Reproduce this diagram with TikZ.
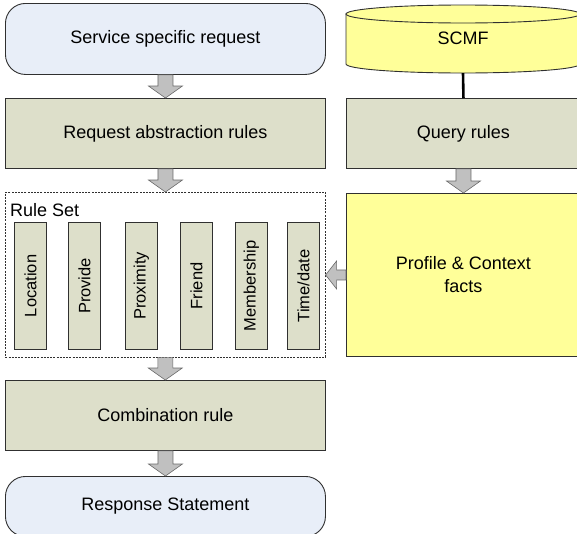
\documentclass[tikz,border=0pt]{standalone}
\usepackage{fontspec}
\setmainfont{Liberation Sans}
\usetikzlibrary{calc}

\definecolor{reqblue}{HTML}{E8EEF8}
\definecolor{rulegreen}{HTML}{DDDFCA}
\definecolor{factyellow}{HTML}{FFFF99}
\definecolor{arrowfill}{HTML}{C0C0C0}
\definecolor{arrowedge}{HTML}{6A6A6A}
\definecolor{edgegray}{HTML}{303030}

% downward block arrow from the bottom of #1 to the top of #2
\newcommand\downblock[2]{%
  \path[blockarrow] let \p1=(#1.south), \p2=(#2.north) in
    (\x1-7.5pt,\y1) -- (\x1-7.5pt,\y2+12pt) -- (\x1-17pt,\y2+12pt) -- (\x1,\y2)
    -- (\x1+17pt,\y2+12pt) -- (\x1+7.5pt,\y2+12pt) -- (\x1+7.5pt,\y1) -- cycle;}

\begin{document}
\begin{tikzpicture}[x=1pt,y=-1pt,
  base/.style={draw=edgegray, line width=0.9pt, inner sep=0pt, anchor=north west,
    font=\fontsize{18}{21}\selectfont},
  rulebox/.style={base, fill=rulegreen, minimum width=320pt, minimum height=70pt},
  endbox/.style={base, fill=reqblue, rounded corners=20pt, minimum width=320pt},
  rightbox/.style={base, minimum width=234pt, minimum height=70pt},
  setbox/.style={draw=edgegray, line width=0.6pt, dash pattern=on 2pt off 1.2pt,
    inner sep=0pt, anchor=north west, minimum width=320pt, minimum height=165pt},
  member/.style={base, fill=rulegreen, minimum width=32pt, minimum height=127pt,
    font=\fontsize{16.5}{19}\selectfont},
  membertext/.style={rotate=90, font=\fontsize{16.5}{19}\selectfont, inner sep=0pt},
  blockarrow/.style={fill=arrowfill, draw=arrowedge, line width=0.6pt},
]
\useasboundingbox (0,0) rectangle (577,533);
\clip (0,0) rectangle (577,533);

% left column
\node[endbox, minimum height=71pt] (service) at (5,3) {Service specific request};
\node[rulebox] (abstract) at (5,98) {Request abstraction rules};
\node[setbox] (ruleset) at (5,192) {};
\node[anchor=west, inner sep=0pt, font=\fontsize{18}{21}\selectfont] (setlabel) at (10,210) {Rule Set};

\node[member] (location) at (14,222) {};
\node[membertext] (locationtext) at (location.center) {Location};
\node[member] (provide) at (68,222) {};
\node[membertext] (providetext) at (provide.center) {Provide};
\node[member] (proximity) at (125,222) {};
\node[membertext] (proximitytext) at (proximity.center) {Proximity};
\node[member] (friend) at (180,222) {};
\node[membertext] (friendtext) at (friend.center) {Friend};
\node[member] (membership) at (235,222) {};
\node[membertext] (membershiptext) at (membership.center) {Membership};
\node[member] (timedate) at (287,222) {};
\node[membertext] (timedatetext) at (timedate.center) {Time/date};

\node[rulebox] (combination) at (5,380) {Combination rule};
\node[endbox, minimum height=60pt] (response) at (5,476) {Response Statement};

% right column: SCMF store
\filldraw[fill=factyellow, draw=edgegray, line width=0.9pt]
  (346,14) -- (346,64) arc[start angle=180, end angle=360, x radius=117pt, y radius=9pt]
  -- (580,14) -- cycle;
\filldraw[fill=factyellow, draw=edgegray, line width=0.9pt]
  (463,14) ellipse[x radius=117pt, y radius=9pt];
\node[inner sep=0pt, minimum width=234pt, minimum height=70pt,
  font=\fontsize{18}{21}\selectfont] (scmf) at (463,38) {SCMF};

\node[rightbox, fill=rulegreen] (query) at (346,98) {Query rules};
\node[rightbox, fill=factyellow, minimum height=163pt, align=center,
  font=\fontsize{18}{23}\selectfont] (facts) at (346,193) {Profile \& Context\\facts};

% connectors
\draw[line width=2.6pt, black] (scmf.south) -- (query.north);

\downblock{service}{abstract}
\downblock{abstract}{ruleset}
\downblock{ruleset}{combination}
\downblock{combination}{response}
\downblock{query}{facts}

\path[blockarrow] let \p1=(facts.west), \p2=(ruleset.east) in
  (\x1,\y1-5pt) -- (\x2+11pt,\y1-5pt) -- (\x2+11pt,\y1-14pt) -- (\x2,\y1)
  -- (\x2+11pt,\y1+14pt) -- (\x2+11pt,\y1+5pt) -- (\x1,\y1+5pt) -- cycle;
\end{tikzpicture}
\end{document}
